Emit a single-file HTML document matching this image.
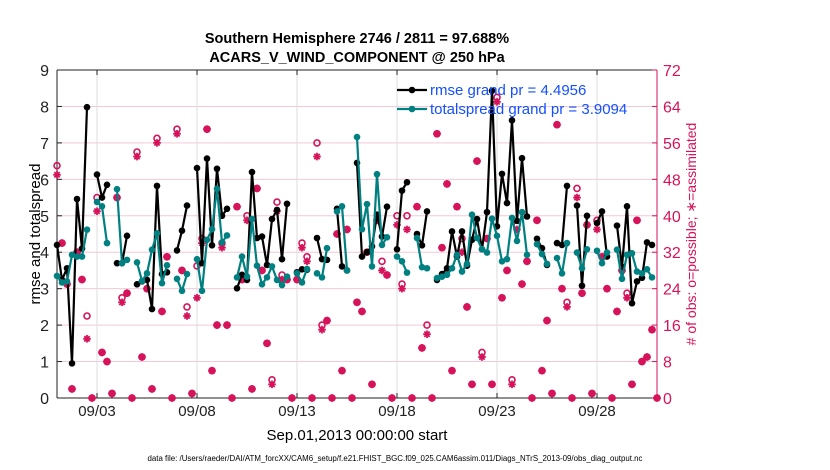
<!DOCTYPE html>
<html><head><meta charset="utf-8"><style>
html,body{margin:0;padding:0;background:#fff;}
svg{display:block;font-family:"Liberation Sans",sans-serif;}
</style></head><body>
<svg id="chart" width="830" height="470" viewBox="0 0 830 470" xmlns="http://www.w3.org/2000/svg">
<text x="357" y="43" font-size="14.5" font-weight="bold" text-anchor="middle">Southern Hemisphere 2746 / 2811 = 97.688%</text>
<text x="357" y="62" font-size="14.5" font-weight="bold" text-anchor="middle">ACARS_V_WIND_COMPONENT @ 250 hPa</text>
<g id="grid"></g>
<g id="axes"></g>
<g id="marks"></g>
<text transform="translate(40,234) rotate(-90)" font-size="15" text-anchor="middle">rmse and totalspread</text>
<text transform="translate(696,234) rotate(-90)" font-size="14" fill="#d6135a" text-anchor="middle"># of obs: o=possible; ∗=assimilated</text>
<text x="357" y="440" font-size="15" text-anchor="middle">Sep.01,2013 00:00:00 start</text>
<text x="395" y="461" font-size="7.9" text-anchor="middle">data file: /Users/raeder/DAI/ATM_forcXX/CAM6_setup/f.e21.FHIST_BGC.f09_025.CAM6assim.011/Diags_NTrS_2013-09/obs_diag_output.nc</text>
<g id="legend"></g>
</svg>
<script>
const rmse=[4.2,3.24,3.56,0.95,5.46,4.1,7.98,null,6.13,5.5,5.85,null,3.7,3.7,4.45,null,3.12,3.2,3.24,2.44,5.82,3.4,3.45,null,4.05,4.59,5.28,null,6.31,3.7,6.57,4.19,6.29,5.0,5.19,null,3.01,3.38,3.24,6.2,4.39,4.43,3.65,4.91,5.16,3.81,5.33,null,3.45,3.53,3.52,null,4.39,3.81,3.79,null,5.19,3.61,3.5,null,6.45,3.88,4.0,4.16,5.03,4.43,5.25,null,4.08,5.69,5.92,null,4.5,4.19,5.12,null,3.24,3.4,3.56,4.57,3.88,4.57,3.63,4.34,4.91,4.08,5.1,8.43,4.71,6.15,5.35,7.62,4.86,6.58,4.98,null,4.37,4.11,3.65,null,4.25,4.2,5.82,null,5.28,3.08,5.0,null,4.8,5.12,3.88,null,4.73,3.6,5.26,2.6,3.2,3.3,4.27,4.2,null];
const spread=[3.35,3.17,3.2,3.93,3.88,3.88,4.62,null,5.38,5.26,4.25,null,5.73,3.7,3.79,null,3.72,3.21,3.42,4.07,4.52,3.15,3.64,null,3.27,2.94,3.4,null,3.81,2.94,4.34,4.63,5.74,4.27,4.46,null,3.31,3.88,3.33,4.91,3.63,3.12,3.31,3.61,3.24,3.1,3.33,null,3.42,3.17,3.54,null,3.42,3.31,4.11,null,5.12,5.26,3.5,null,7.16,4.63,5.32,3.61,6.14,4.2,4.41,null,3.88,3.75,3.44,null,4.39,3.59,3.56,null,3.29,3.33,3.38,3.56,3.93,3.47,3.68,5.03,4.39,4.08,3.99,4.92,4.45,3.75,3.81,4.94,4.31,5.1,3.93,null,4.22,3.95,3.68,null,3.84,3.42,4.25,null,3.99,3.56,4.08,null,4.04,3.7,3.99,null,4.07,3.27,3.93,3.97,3.47,3.42,3.53,3.31,null];
const possible=[51,34,25,2,32,26,18,0,44,10,8,1,44,22,23,0,54,9,24,2,57,19,31,0,59,28,20,1,29,35,59,6,16,34,16,0,42,26,40,2,46,28,12,4,43,27,26,0,26,34,31,0,56,16,17,0,36,6,37,0,21,19,32,3,39,30,27,0,40,25,40,0,42,11,16,0,58,33,47,6,42,35,20,3,52,10,35,3,66,22,28,4,38,25,30,0,39,6,17,1,60,24,21,0,46,23,38,1,39,31,24,0,19,28,23,3,39,8,9,15,0];
const assimilated=[49,34,25,2,32,26,13,0,41,10,8,1,44,21,23,0,53,9,24,2,56,19,31,0,58,28,18,1,22,34,59,6,16,33,16,0,42,26,39,2,46,28,12,3,41,26,26,0,26,33,30,0,53,15,17,0,36,6,37,0,21,19,32,3,39,28,27,0,38,24,37,0,42,11,14,0,58,33,47,6,42,32,20,3,52,9,35,3,65,22,28,3,37,25,30,0,39,6,17,1,60,24,20,0,44,23,38,1,37,31,24,0,19,28,22,3,39,8,9,15,0];
const dateLabels=["09/03","09/08","09/13","09/18","09/23","09/28"];
const dateDays=[2,7,12,17,22,27];
const yTicks=[0,1,2,3,4,5,6,7,8,9];
const y2Ticks=[0,8,16,24,32,40,48,56,64,72];

const NS="http://www.w3.org/2000/svg";
const X0=57,X1=657,Y0=398,Y1=70,RED="#d6135a",TEAL="#008080";
const xDay=d=>X0+(X1-X0)*d/30;
const xIdx=i=>xDay(i*0.25);
const yL=v=>Y0-(Y0-Y1)*v/9;
const yR=v=>Y0-(Y0-Y1)*v/72;
function mk(tag,attrs,parent){const e=document.createElementNS(NS,tag);for(const k in attrs)e.setAttribute(k,attrs[k]);parent.appendChild(e);return e;}
const grid=document.getElementById('grid'),axes=document.getElementById('axes'),marks=document.getElementById('marks'),legend=document.getElementById('legend');

y2Ticks.forEach(t=>{if(t>0&&t<72){const l=mk('line',{x1:X0,x2:X1,y1:yR(t),y2:yR(t),stroke:'#f3c9d8','stroke-width':1},grid);

}});
dateDays.forEach((d,k)=>{const x=xDay(d);
const g=mk('line',{x1:x,x2:x,y1:Y1,y2:Y0,stroke:'#dcdcdc','stroke-width':1},grid);


mk('line',{x1:x,x2:x,y1:Y0,y2:Y0-5,stroke:'#222'},axes);
mk('line',{x1:x,x2:x,y1:Y1,y2:Y1+5,stroke:'#222'},axes);
const t=mk('text',{x:x,y:416,'font-size':15,'text-anchor':'middle',fill:'#222'},axes);t.textContent=dateLabels[k];

});
mk('line',{x1:X0,x2:X1,y1:Y0,y2:Y0,stroke:'#222'},axes);
mk('line',{x1:X0,x2:X1,y1:Y1,y2:Y1,stroke:'#222'},axes);
mk('line',{x1:X0,x2:X0,y1:Y1,y2:Y0,stroke:'#222'},axes);
mk('line',{x1:X1,x2:X1,y1:Y1,y2:Y0,stroke:RED},axes);
yTicks.forEach(t=>{const y=yL(t);mk('line',{x1:X0,x2:X0+5,y1:y,y2:y,stroke:'#222'},axes);
const e=mk('text',{x:X0-8,y:y+6,'font-size':16,'text-anchor':'end',fill:'#222'},axes);e.textContent=t;

});
y2Ticks.forEach(t=>{const y=yR(t);mk('line',{x1:X1,x2:X1-5,y1:y,y2:y,stroke:RED},axes);
const e=mk('text',{x:X1+6,y:y+6,'font-size':16,'text-anchor':'start',fill:RED},axes);e.textContent=t;

});

function star(x,y,p){const s=3.8;const g=mk('g',{stroke:RED,'stroke-width':1.8},p);
mk('line',{x1:x-s,x2:x+s,y1:y,y2:y},g);mk('line',{x1:x,x2:x,y1:y-s,y2:y+s},g);
mk('line',{x1:x-s*.7,x2:x+s*.7,y1:y-s*.7,y2:y+s*.7},g);mk('line',{x1:x-s*.7,x2:x+s*.7,y1:y+s*.7,y2:y-s*.7},g);return g;}
possible.forEach((v,i)=>{const c=mk('circle',{cx:xIdx(i),cy:yR(v),r:3,fill:'none',stroke:RED,'stroke-width':1.6},marks);

});
assimilated.forEach((v,i)=>{const g=star(xIdx(i),yR(v),marks);

});

function series(vals,color,name){let d='',pen=false;
vals.forEach((v,i)=>{if(v===null){pen=false;return;}d+=(pen?'L':'M')+xIdx(i).toFixed(1)+','+yL(v).toFixed(1);pen=true;});
const p=mk('path',{d:d,fill:'none',stroke:color,'stroke-width':2.2,'stroke-linejoin':'round'},marks);


vals.forEach((v,i)=>{if(v===null)return;const c=mk('circle',{cx:xIdx(i),cy:yL(v),r:3.3,fill:color},marks);

});}
series(rmse,'#000','rmse');
series(spread,TEAL,'totalspread');

[[ '#000','rmse grand pr = 4.4956',90],[TEAL,'totalspread grand pr = 3.9094',109]].forEach(([c,txt,y],k)=>{
mk('line',{x1:397,x2:427,y1:y,y2:y,stroke:c,'stroke-width':2.2},legend);
mk('circle',{cx:412,cy:y,r:3.3,fill:c},legend);
const t=mk('text',{x:430,y:y+5,'font-size':15,fill:'#1450ff'},legend);t.textContent=txt;

});
</script>
</body></html>
